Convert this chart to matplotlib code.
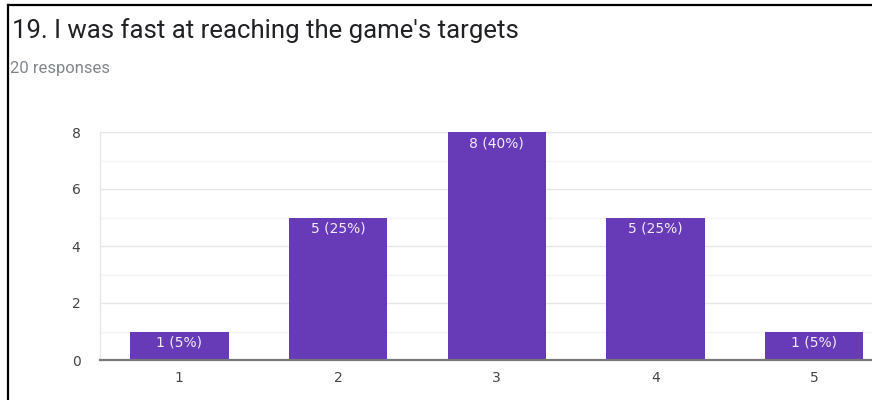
import matplotlib
matplotlib.use('Agg')
import matplotlib.pyplot as plt
from matplotlib.lines import Line2D

# chart data
categories = ['1', '2', '3', '4', '5']
counts = [1, 5, 8, 5, 1]
percents = [5, 25, 40, 25, 5]
title = "19. I was fast at reaching the game's targets"
subtitle = '20 responses'

W, H = 872, 400
fig = plt.figure(figsize=(W / 100, H / 100), dpi=100)
fig.patch.set_facecolor('white')

# plot area runs off the right edge, like the screenshot
ax = fig.add_axes([100 / W, 40 / H, 793.5 / W, 228 / H])
x = list(range(1, len(categories) + 1))
bars = ax.bar(x, counts, width=0.62, color='#673ab7', zorder=3)

ax.set_xlim(0.5, len(categories) + 0.5)
ax.set_ylim(0, 8)
ax.set_yticks([0, 2, 4, 6, 8])
ax.set_yticks([1, 3, 5, 7], minor=True)
ax.set_xticks(x)
ax.set_xticklabels(categories)

# gridlines
ax.grid(axis='y', which='major', color='#e6e6e6', linewidth=1.0, zorder=0)
ax.grid(axis='y', which='minor', color='#f3f3f3', linewidth=1.0, zorder=0)
ax.tick_params(axis='both', which='both', length=0, labelsize=10,
               labelcolor='#444444')
ax.tick_params(axis='y', pad=14)
ax.tick_params(axis='x', pad=8)

for side in ('top', 'right'):
    ax.spines[side].set_visible(False)
ax.spines['left'].set_color('#e6e6e6')
ax.spines['left'].set_linewidth(1.0)
ax.spines['bottom'].set_color('#777777')
ax.spines['bottom'].set_linewidth(1.6)
ax.spines['bottom'].set_zorder(4)

# labels inside bars
for b, c, p in zip(bars, counts, percents):
    ax.annotate('%d (%d%%)' % (c, p), (b.get_x() + b.get_width() / 2, c),
                xytext=(0, -3), textcoords='offset points', ha='center',
                va='top', color='#f0ecf8', fontsize=10, zorder=5)

# title block
fig.text(12 / W, 1 - 31 / H, title, fontsize=18.5, family='Roboto',
         color='#202124', va='center', ha='left')
fig.text(10 / W, 1 - 68 / H, subtitle, fontsize=12, family='Roboto',
         color='#80868b', va='center', ha='left')

# screenshot border
fig.add_artist(Line2D([8 / W, 1], [1 - 5 / H, 1 - 5 / H], color='black',
                      linewidth=1.6, transform=fig.transFigure))
fig.add_artist(Line2D([8 / W, 8 / W], [0, 1 - 5 / H], color='black',
                      linewidth=1.6, transform=fig.transFigure))

fig.savefig('out.png', dpi=100)
